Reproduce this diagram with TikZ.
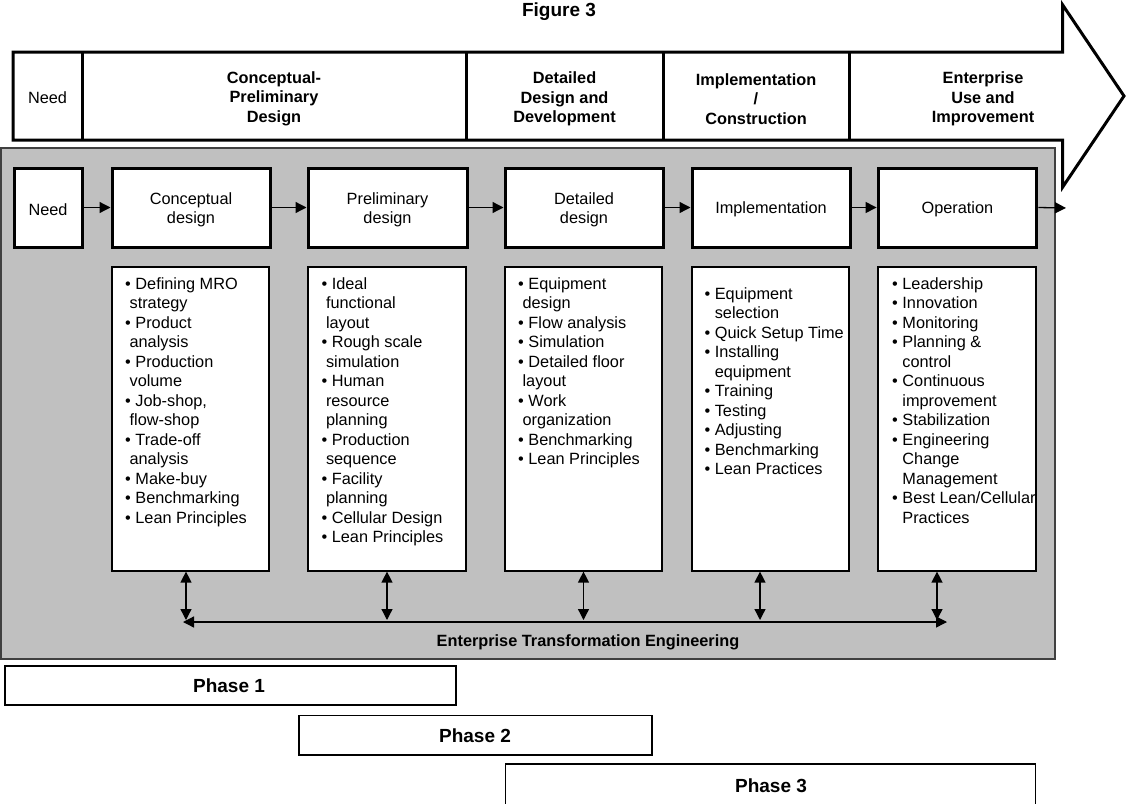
\documentclass[tikz,border=0pt]{standalone}
\usepackage{fontspec}
\setmainfont{Liberation Sans}
\usetikzlibrary{arrows.meta}
\definecolor{panelgray}{HTML}{C0C0C0}
\definecolor{paneledge}{HTML}{404040}
\newcommand{\contA}{\hspace*{4.4pt}}
\newcommand{\contB}{\hphantom{• }}
\begin{document}
\begin{tikzpicture}[x=1pt,y=-1pt,
  txt/.style={font=\fontsize{16.3}{19.5}\selectfont},
  bandtxt/.style={font=\fontsize{16.3}{19.5}\selectfont\bfseries, align=center, inner sep=0pt},
  bandline/.style={draw=black, line width=3pt},
  stage/.style={draw, line width=3pt, fill=white, minimum height=79pt, inner sep=0pt},
  stagetxt/.style={align=center, inner sep=0pt, txt},
  listbox/.style={draw, line width=1.2pt, fill=white, minimum height=304pt, inner sep=0pt},
  listtxt/.style={anchor=north west, align=left, inner sep=0pt, txt},
  flow/.style={line width=1.3pt, -{Triangle[length=11pt,width=11pt]}},
  dbl/.style={line width=1.3pt, {Triangle[length=11pt,width=11pt]}-{Triangle[length=11pt,width=11pt]}},
  phase/.style={draw, line width=1.2pt, fill=white, inner sep=0pt},
  bigbold/.style={inner sep=0pt, font=\fontsize{19}{22}\selectfont\bfseries}
]
\useasboundingbox (0,0) rectangle (1126,803);

% title
\node[bigbold] (title) at (559,12) {Figure 3};

% top band arrow
\draw[bandline, fill=white, line join=miter]
  (13,52) -- (1062.7,52) -- (1062.7,5) -- (1124,96) -- (1062.7,187) -- (1062.7,140) -- (13,140) -- cycle;
\foreach \xx in {82,466,663,849} \draw[bandline] (\xx,52) -- (\xx,140);
\node[bandtxt, font=\fontsize{16.3}{19.5}\selectfont] (bneed) at (47.5,97.5) {Need};
\node[bandtxt] (bcpd) at (274,98.5) {Conceptual-\\Preliminary\\Design};
\node[bandtxt] (bddd) at (564.5,99) {Detailed\\Design and\\Development};
\node[bandtxt] (bic) at (756,99) {Implementation\\/\\Construction};
\node[bandtxt] (beui) at (983,99) {Enterprise\\Use and\\Improvement};

% gray panel
\draw[fill=panelgray, draw=paneledge, line width=1.5pt] (1,148) rectangle (1055,659);

% stage boxes
\node[stage, minimum width=68pt] (need) at (48,207.5) {};
\node[stage, minimum width=158pt] (concept) at (191,207.5) {};
\node[stage, minimum width=159pt] (prelim) at (387.5,207.5) {};
\node[stage, minimum width=158pt] (detail) at (584,207.5) {};
\node[stage, minimum width=158pt] (impl) at (771,207.5) {};
\node[stage, minimum width=158.7pt] (oper) at (957.4,207.5) {};
\node[stagetxt] (need-t) at ([yshift=-1.8pt]need.center) {Need};
\node[stagetxt] (concept-t) at ([yshift=-2.2pt]concept.center) {Conceptual\\design};
\node[stagetxt] (prelim-t) at ([yshift=-2.2pt]prelim.center) {Preliminary\\design};
\node[stagetxt] (detail-t) at ([yshift=-2.2pt]detail.center) {Detailed\\design};
\node[stagetxt] (impl-t) at ([yshift=-2pt]impl.center) {Implementation};
\node[stagetxt] (oper-t) at ([yshift=-2pt]oper.center) {Operation};
\coordinate (out) at (1066,208);

\draw[flow] (need.east) -- (concept.west);
\draw[flow] (concept.east) -- (prelim.west);
\draw[flow] (prelim.east) -- (detail.west);
\draw[flow] (detail.east) -- (impl.west);
\draw[flow] (impl.east) -- (oper.west);
\draw[flow] (oper.east) -- (out);

% list boxes
\node[listbox, minimum width=157pt] (cl) at (190.5,419) {};
\node[listbox, minimum width=158pt] (pl) at (387,419) {};
\node[listbox, minimum width=157pt] (dl) at (583.5,419) {};
\node[listbox, minimum width=157pt] (il) at (770.5,419) {};
\node[listbox, minimum width=158pt] (ol) at (957,419) {};

\node[listtxt] (clt) at (125,275.2) {\strut• Defining MRO\\\contA strategy\\• Product\\\contA analysis\\• Production\\\contA volume\\• Job-shop,\\\contA flow-shop\\• Trade-off\\\contA analysis\\• Make-buy\\• Benchmarking\\• Lean Principles};
\node[listtxt] (plt) at (321.4,275.2) {\strut• Ideal\\\contA functional\\\contA layout\\• Rough scale\\\contA simulation\\• Human\\\contA resource\\\contA planning\\• Production\\\contA sequence\\• Facility\\\contA planning\\• Cellular Design\\• Lean Principles};
\node[listtxt] (dlt) at (518,275.2) {\strut• Equipment\\\contA design\\• Flow analysis\\• Simulation\\• Detailed floor\\\contA layout\\• Work\\\contA organization\\• Benchmarking\\• Lean Principles};
\node[listtxt] (ilt) at (704.4,285.2) {\strut• Equipment\\\contB selection\\• Quick Setup Time\\• Installing\\\contB equipment\\• Training\\• Testing\\• Adjusting\\• Benchmarking\\• Lean Practices};
\node[listtxt] (olt) at (892,275.2) {\strut• Leadership\\• Innovation\\• Monitoring\\• Planning \&\\\contB control\\• Continuous\\\contB improvement\\• Stabilization\\• Engineering\\\contB Change\\\contB Management\\• Best Lean/Cellular\\\contB Practices};

% enterprise transformation engineering links
\coordinate (b1) at (186,620);
\coordinate (b2) at (387,620);
\coordinate (b3) at (583.5,620);
\coordinate (b4) at (760,620);
\coordinate (b5) at (937,620);
\draw[dbl] (cl.south -| b1) -- (b1);
\draw[dbl] (pl.south -| b2) -- (b2);
\draw[dbl] (dl.south -| b3) -- (b3);
\draw[dbl] (il.south -| b4) -- (b4);
\draw[dbl] (ol.south -| b5) -- (b5);
\coordinate (hl) at (183,622);
\coordinate (hr) at (947,622);
\draw[dbl] (hl) -- (hr);
\node[bandtxt] (ete) at (588,642.5) {Enterprise Transformation Engineering};

% phases
\node[phase, minimum width=451pt, minimum height=39pt] (p1) at (230.5,685.5) {};
\node[phase, minimum width=353pt, minimum height=39.5pt] (p2) at (475.5,735.3) {};
\node[phase, minimum width=530pt, minimum height=48pt] (p3) at (770.5,788) {};
\node[bigbold] (p1-t) at (229,686) {Phase 1};
\node[bigbold] (p2-t) at (475,735.5) {Phase 2};
\node[bigbold] (p3-t) at (771,786) {Phase 3};
\end{tikzpicture}
\end{document}
